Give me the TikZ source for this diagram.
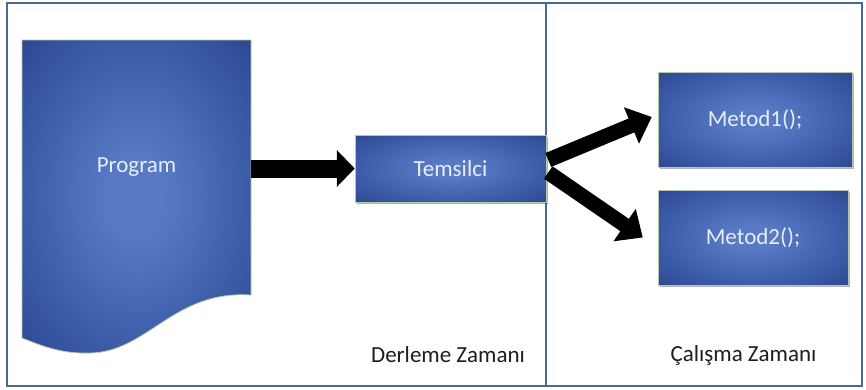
\documentclass[tikz,border=0pt]{standalone}
\usepackage{fontspec}
\setmainfont{Carlito}
\usetikzlibrary{arrows.meta,shadows}
\definecolor{boxlite}{RGB}{88,122,196}
\definecolor{boxmid}{RGB}{52,82,158}
\definecolor{boxdark}{RGB}{26,42,102}
\definecolor{frameblue}{RGB}{74,104,148}
\definecolor{edgecol}{RGB}{180,200,170}
\definecolor{txtwhite}{RGB}{232,238,248}
\definecolor{lbl}{RGB}{30,30,30}
\pgfdeclareradialshading{boxshade}{\pgfpoint{0bp}{0bp}}{color(0bp)=(boxlite); color(6bp)=(boxlite); color(30bp)=(boxmid); color(50bp)=(boxdark); color(72bp)=(boxdark)}
\tikzset{
  bluebox/.style={shading=boxshade, draw=edgecol, line width=0.5pt, inner sep=0pt,
    text=txtwhite, font=\fontsize{23}{27}\selectfont,
    drop shadow={shadow xshift=2pt, shadow yshift=-2pt, opacity=0.3, fill=black}},
  bigarrow/.style={line width=18pt, draw=black, -{Triangle[length=18pt,width=36pt]}},
  slantarrow/.style={line width=15pt, draw=black, -{Triangle[length=22pt,width=38pt]}},
  lbltext/.style={text=lbl, font=\fontsize{23}{27}\selectfont, inner sep=0pt},
  framestyle/.style={draw=frameblue, line width=1.8pt}
}
\begin{document}
\begin{tikzpicture}[x=1pt,y=-1pt]
\useasboundingbox (0,0) rectangle (866,389);
\fill[white] (0,0) rectangle (866,389);
% frame and divider
\draw[framestyle] (7,3) rectangle (862,386);
\coordinate (divtop) at (546,3);
\coordinate (divbot) at (546,386);
\draw[framestyle] (divtop) -- (divbot);
% program document shape
\shade[shading=boxshade, draw=edgecol, line width=0.8pt]
  (22,40) -- (251,40) -- (251,295)
  .. controls (173,290) and (148,352) .. (90,353)
  .. controls (60,354) and (40,345) .. (22,338) -- cycle;
\node[minimum width=229pt, minimum height=255pt, inner sep=0pt, text=txtwhite,
  font=\fontsize{23}{27}\selectfont] (program) at (136.5,167.5) {Program};
% boxes
\node[bluebox, minimum width=191pt, minimum height=67pt] (temsilci) at (450.5,168.5) {Temsilci};
\node[bluebox, minimum width=194pt, minimum height=95pt] (metod1) at (755,119.5) {Metod1();};
\node[bluebox, minimum width=190pt, minimum height=95pt] (metod2) at (753,237.5) {Metod2();};
% arrows
\draw[bigarrow] (program.east |- temsilci.west) -- (temsilci.west);
\draw[slantarrow] ([xshift=2pt,yshift=8.5pt]temsilci.east) -- ([xshift=-6pt,yshift=2.5pt]metod1.west);
\draw[slantarrow] ([xshift=2pt,yshift=-4pt]temsilci.east) -- ([xshift=-15pt]metod2.west);
% labels
\node[lbltext] (derleme) at (448,355) {Derleme Zamanı};
\node[lbltext] (calisma) at (743.5,355) {Çalışma Zamanı};
\end{tikzpicture}
\end{document}
